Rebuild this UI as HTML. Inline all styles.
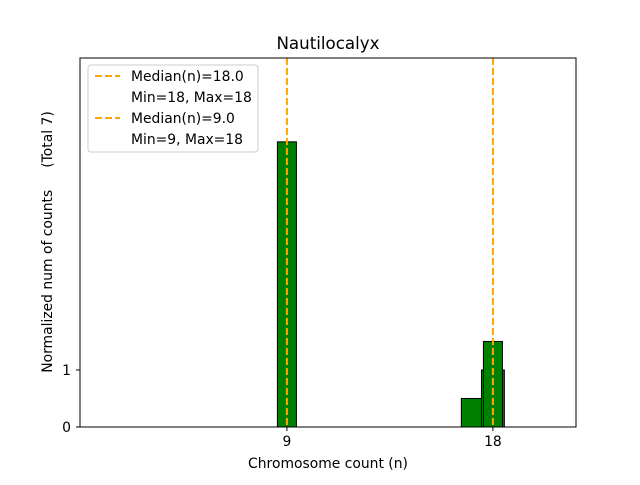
<!DOCTYPE html>
<html><head><meta charset="utf-8"><style>
body{margin:0;background:#fff;font-family:"Liberation Sans","DejaVu Sans",sans-serif}
svg text{font-family:"DejaVu Sans","Liberation Sans",sans-serif}
</style></head><body>
<svg id="c" width="640" height="480" xmlns="http://www.w3.org/2000/svg">
<rect width="640" height="480" fill="#fff"/>
<text x="328" y="49" font-size="16.7" text-anchor="middle">Nautilocalyx</text>
<g id="bars"></g>
<g id="medians"></g>
<rect x="80" y="58" width="496" height="369" fill="none" stroke="#000" stroke-width="1"/>
<g id="ticks"></g>
<text x="328" y="468" font-size="13.9" text-anchor="middle">Chromosome count (n)</text>
<text transform="translate(52,242) rotate(-90)" font-size="13.9" text-anchor="middle" style="white-space:pre">Normalized num of counts&#160;&#160;&#160;&#160;&#160;(Total 7)</text>
<g>
<rect x="88" y="65" width="170" height="87" rx="3" fill="#fff" fill-opacity="0.8" stroke="#ccc"/>
<line x1="95" y1="76" x2="120" y2="76" stroke="#FFA500" stroke-width="2" stroke-dasharray="7,3"/>
<text x="131" y="81" font-size="13.9">Median(n)=18.0</text>
<text x="131" y="102" font-size="13.9">Min=18, Max=18</text>
<line x1="95" y1="118" x2="120" y2="118" stroke="#FFA500" stroke-width="2" stroke-dasharray="7,3"/>
<text x="131" y="123" font-size="13.9">Median(n)=9.0</text>
<text x="131" y="144" font-size="13.9">Min=9, Max=18</text>
</g>
</svg>
<script>
const seriesAX=[9,18];
const seriesAY=[5,1.5];
const seriesBX=[17.12,18];
const seriesBY=[0.5,1];
const medians=[18,9];
const xTicks=[9,18];
const yTicks=[0,1];
const X0=-0.04,X1=21.63,Y0=0,Y1=6.47;
const L=80,R=576,T=58,B=427;
const sx=v=>L+(v-X0)/(X1-X0)*(R-L);
const sy=v=>B-(v-Y0)/(Y1-Y0)*(B-T);
const NS="http://www.w3.org/2000/svg";
function mk(t,a,p){const e=document.createElementNS(NS,t);for(const k in a)e.setAttribute(k,a[k]);p.appendChild(e);return e;}
const bars=document.getElementById('bars');
seriesBX.forEach((x,i)=>{const w=1.0*(sx(1)-sx(0));
const r=mk('rect',{x:sx(x)-w/2,y:sy(seriesBY[i]),width:w,height:sy(0)-sy(seriesBY[i]),fill:'#008000',stroke:'#000','stroke-width':1},bars);

});
seriesAX.forEach((x,i)=>{const w=0.83*(sx(1)-sx(0));
const r=mk('rect',{x:sx(x)-w/2,y:sy(seriesAY[i]),width:w,height:sy(0)-sy(seriesAY[i]),fill:'#008000',stroke:'#000','stroke-width':1},bars);

});
const med=document.getElementById('medians');
medians.forEach(m=>{const l=mk('line',{x1:sx(m),x2:sx(m),y1:T,y2:B,stroke:'#FFA500','stroke-width':2,'stroke-dasharray':'7,3'},med);

});
const tk=document.getElementById('ticks');
xTicks.forEach(v=>{mk('line',{x1:sx(v),x2:sx(v),y1:B,y2:B+4,stroke:'#000'},tk);
const t=mk('text',{x:sx(v),y:B+19,'font-size':13.9,'text-anchor':'middle'},tk);t.textContent=v;

});
yTicks.forEach(v=>{mk('line',{x1:L-4,x2:L,y1:sy(v),y2:sy(v),stroke:'#000'},tk);
const t=mk('text',{x:L-9,y:sy(v)+5,'font-size':13.9,'text-anchor':'end'},tk);t.textContent=v;

});
</script>
</body></html>
